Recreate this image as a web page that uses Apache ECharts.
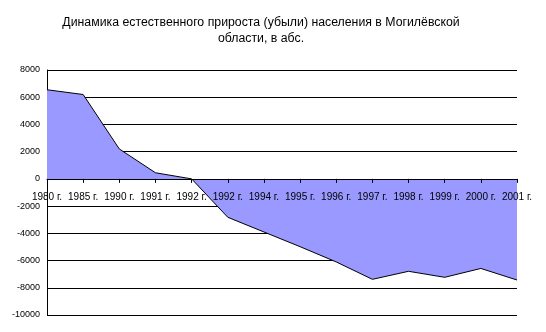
<!DOCTYPE html>
<html>
<head>
<meta charset="utf-8">
<script src="https://cdn.jsdelivr.net/npm/echarts@6/dist/echarts.min.js"></script>
<style>
  html, body { margin: 0; padding: 0; background: #fff; }
  #chart { width: 546px; height: 332px; }
</style>
</head>
<body>
<div id="chart"></div>
<script>
// годы (подписи оси X, как на исходной диаграмме)
var years = ['1980 г.', '1985 г.', '1990 г.', '1991 г.', '1992 г.', '1992 г.', '1994 г.',
  '1995 г.', '1996 г.', '1997 г.', '1998 г.', '1999 г.', '2000 г.', '2001 г.']
// естественный прирост (убыль), чел.
var growth = [6550, 6200, 2200, 450, 0, -2820, -3900, -4980, -6100, -7380, -6790, -7230, -6580, -7430]
var yTicks = [8000, 6000, 4000, 2000, 0, -2000, -4000, -6000, -8000, -10000]

var yMax = yTicks[0], yMin = yTicks[yTicks.length - 1]
var gridTop = 70, gridBottom = 17
var plotH = 332 - gridTop - gridBottom
// ось X проходит через ноль вместе с подписями
var zeroOffset = -plotH * (0 - yMin) / (yMax - yMin)

var chart = echarts.init(document.getElementById('chart'))

var option = {
  animation: false,
  title: {
    text: 'Динамика естественного прироста (убыли) населения в Могилёвской\nобласти, в абс.',
    left: 261,
    top: 15,
    textAlign: 'center',
    padding: 0,
    textStyle: {
      fontFamily: 'Liberation Sans, Arial, sans-serif',
      fontSize: 12.3,
      fontWeight: 'normal',
      color: '#000',
      lineHeight: 16
    }
  },
  grid: { left: 47, right: 29, top: gridTop, bottom: gridBottom, containLabel: false },
  xAxis: {
    type: 'category',
    data: years,
    boundaryGap: false,
    position: 'bottom',
    offset: zeroOffset,
    z: 5,
    axisLine: { onZero: false, lineStyle: { color: '#000', width: 1 } },
    axisTick: { show: true, inside: false, length: 4, lineStyle: { color: '#000' } },
    axisLabel: {
      interval: 0,
      hideOverlap: false,
      margin: 13,
      fontFamily: 'Liberation Sans, Arial, sans-serif',
      fontSize: 10,
      color: '#000'
    },
    splitLine: { show: false }
  },
  yAxis: {
    type: 'value',
    min: yMin,
    max: yMax,
    interval: 2000,
    z: 0,
    axisLine: { show: true, lineStyle: { color: '#000', width: 1 } },
    axisTick: { show: false },
    axisLabel: {
      margin: 7,
      fontFamily: 'Liberation Sans, Arial, sans-serif',
      fontSize: 9,
      color: '#000',
      formatter: function (v) { return String(v) }
    },
    splitLine: { show: true, lineStyle: { color: '#000', width: 1 } }
  },
  series: [{
    type: 'line',
    data: growth,
    symbol: 'none',
    z: 2,
    lineStyle: { color: '#000', width: 1 },
    areaStyle: { color: '#9999FF', opacity: 1, origin: 0 }
  }]
}

chart.setOption(option)
</script>
</body>
</html>
